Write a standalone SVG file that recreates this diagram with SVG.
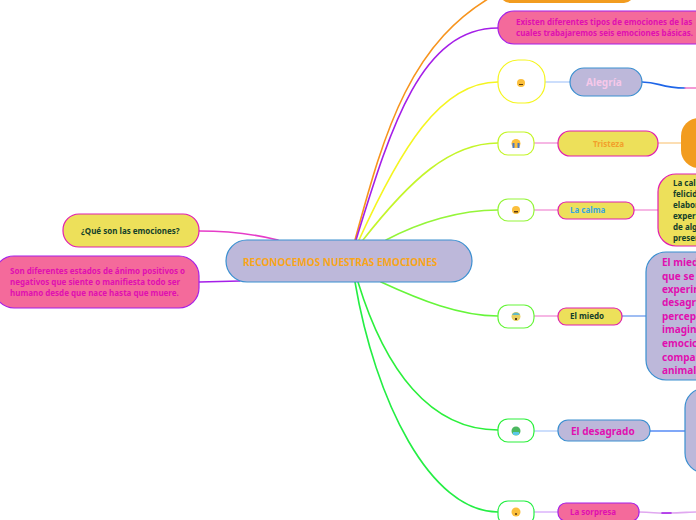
<svg xmlns="http://www.w3.org/2000/svg" width="696" height="520" viewBox="0 0 696 520">
<style>
text{font-family:"Noto Sans","Open Sans","Liberation Sans",sans-serif;font-weight:700;font-size:8px}
.c{fill:none;stroke-width:1.6;stroke-linecap:round}
.y{fill:#ede05a}.p{fill:#f46a9b}.l{fill:#bdb8da}.o{fill:#f29c1f}.w{fill:#fff}
.bm{stroke:#e01fb0;stroke-width:1.2}.bb{stroke:#3a8fd0;stroke-width:1.2}.bp{stroke:#a51fe8;stroke-width:1.2}
.m{fill:#e010b0}.d{fill:#14402a}.big{font-size:10px}
.f{fill:#fbbf3c}.e{fill:#5a3a10}
</style>
<g id="connectors">
<path class="c" stroke="#f7941d" d="M355 240C385 130 410 40 500 -8"/>
<path class="c" stroke="#a51fe8" d="M356 240C390 130 420 28 498 28"/>
<path class="c" stroke="#f5f520" d="M359 240C400 150 440 82 498 82"/>
<path class="c" stroke="#c4f52a" d="M363 240C410 180 450 143 498 143"/>
<path class="c" stroke="#95f53a" d="M386 240C420 222 460 210 498 210"/>
<path class="c" stroke="#66f53a" d="M381 282C420 300 460 316 498 316"/>
<path class="c" stroke="#2cf03c" d="M358 282C385 370 430 430 498 430"/>
<path class="c" stroke="#24ee44" d="M355 282C375 400 430 512 498 512"/>
<path class="c" stroke="#e63cc8" d="M278 240C250 233 225 231 199 231"/>
<path class="c" stroke="#a51fe8" d="M240 281L199 282"/>
<path class="c" stroke="#bcd4fb" d="M545 82H570"/>
<path class="c" stroke="#1f66e8" d="M642 82C660 82 660 88 685 88"/>
<path class="c" stroke="#f078c8" d="M685 88H696"/>
<path class="c" stroke="#f3a0dc" d="M534 143H558"/>
<path class="c" stroke="#fbd49a" d="M658 143H681"/>
<path class="c" stroke="#f3a0dc" d="M534 210H558M634 210H658"/>
<path class="c" stroke="#f3a0dc" d="M534 316H558"/>
<path class="c" stroke="#80a8f0" d="M622 316H646"/>
<path class="c" stroke="#bcd4fb" d="M534 431H558"/>
<path class="c" stroke="#80a8f8" style="stroke-width:2" d="M650 431H685"/>
<path class="c" stroke="#dcb4fb" d="M534 512H558"/>
<path class="c" stroke="#e0a8f0" d="M639 512C655 512 655 514 670 513C680 513 690 512 696 512"/>
<path class="c" stroke="#a51fe8" d="M662 513H671"/>
</g>
<g id="n-center"><rect class="l bb" x="226" y="240" width="246" height="42" rx="21"/><text x="243" y="266" fill="#f9a51a" style="font-size:10px">RECONOCEMOS NUESTRAS EMOCIONES</text></g>
<g id="n-que"><rect class="y bm" x="63" y="214" width="136" height="33" rx="16"/><text x="81" y="234" class="d">¿Qué son las emociones?</text></g>
<g id="n-son"><rect class="p bp" x="-6" y="256" width="205" height="52" rx="20"/><text class="m" x="10" y="274">Son diferentes estados de ánimo positivos o</text><text class="m" x="10" y="285">negativos que siente o manifiesta todo ser</text><text class="m" x="10" y="296">humano desde que nace hasta que muere.</text></g>
<g id="n-top"><rect class="o" x="500" y="-20" width="134" height="23" rx="10"/></g>
<g id="n-existen"><rect class="p bp" x="498" y="11" width="220" height="33" rx="16"/><text class="m" x="516" y="25">Existen diferentes tipos de emociones de las</text><text class="m" x="516" y="36">cuales trabajaremos seis emociones básicas.</text></g>
<g id="n-alegria-icon"><rect class="w" stroke="#f5f520" stroke-width="1.2" x="498" y="60" width="47" height="43" rx="20"/><circle class="f" cx="521" cy="83" r="4"/><path class="e" d="M519 84h4v1h-4z"/></g>
<g id="n-alegria"><rect class="l bb" x="570" y="68" width="72" height="28" rx="14"/><text x="586" y="86" fill="#f6c8ea" class="big">Alegría</text></g>
<g id="n-tristeza-icon"><rect class="w" stroke="#c4f52a" stroke-width="1.2" x="498" y="132" width="36" height="23" rx="10"/><circle class="f" cx="516" cy="143.500" r="4.500"/><path fill="#4a78c8" d="M512.500 143h2v5h-2zM517.500 143h2v5h-2z"/></g>
<g id="n-tristeza"><rect class="y bm" x="558" y="131" width="100" height="25" rx="12"/><text x="593" y="147" fill="#f2a02a">Tristeza</text></g>
<g id="n-orange"><rect class="o" x="681" y="118" width="40" height="50" rx="18"/></g>
<g id="n-calma-icon"><rect class="w" stroke="#95f53a" stroke-width="1.2" x="498" y="199" width="36" height="22" rx="10"/><circle class="f" cx="516" cy="210" r="4"/><path class="e" d="M514 211h4v1.500h-4z"/></g>
<g id="n-calma"><rect class="y bm" x="558" y="202" width="76" height="17" rx="8"/><text x="570" y="213" fill="#3aa6e0">La calma</text></g>
<g id="n-calma-text"><rect class="y bm" x="658" y="174" width="60" height="72" rx="18"/><text class="d" x="673" y="186">La cal</text><text class="d" x="673" y="197">felicid</text><text class="d" x="673" y="208">elabor</text><text class="d" x="673" y="219">experi</text><text class="d" x="673" y="230">de alg</text><text class="d" x="673" y="241">presen</text></g>
<g id="n-miedo-icon"><rect class="w" stroke="#66f53a" stroke-width="1.2" x="498" y="305" width="36" height="23" rx="10"/><circle fill="#e8d060" cx="516" cy="316.500" r="4.500"/><path fill="#5fb8c8" d="M512 315a4.500 4.500 0 0 1 8 0z"/><path class="e" d="M515 318h2v2h-2z"/></g>
<g id="n-miedo"><rect class="y bm" x="558" y="308" width="64" height="17" rx="8"/><text class="d" x="570" y="319">El miedo</text></g>
<g id="n-miedo-text"><rect class="l bb" x="646" y="252" width="80" height="128" rx="20"/><text class="m big" x="662" y="266">El mied</text><text class="m big" x="662" y="280">que se</text><text class="m big" x="662" y="293">experin</text><text class="m big" x="662" y="306">desagr</text><text class="m big" x="662" y="320">percep</text><text class="m big" x="662" y="333">imagin</text><text class="m big" x="662" y="347">emocic</text><text class="m big" x="662" y="361">compar</text><text class="m big" x="662" y="374">animal</text></g>
<g id="n-desagrado-icon"><rect class="w" stroke="#2cf03c" stroke-width="1.2" x="498" y="419" width="36" height="23" rx="10"/><circle fill="#4cb860" cx="516" cy="431" r="4.500"/><path fill="#5ac8e8" d="M513 432h6v3h-6z"/></g>
<g id="n-desagrado"><rect class="l bb" x="558" y="420" width="92" height="21" rx="10"/><text class="m big" x="571" y="434.500">El desagrado</text></g>
<g id="n-desagrado-text"><rect class="l bb" x="685" y="388" width="40" height="85" rx="20"/></g>
<g id="n-sorpresa-icon"><rect class="w" stroke="#24ee44" stroke-width="1.2" x="498" y="501" width="36" height="24" rx="10"/><circle class="f" cx="516" cy="512" r="4.500"/><circle class="e" cx="516" cy="514" r="1"/></g>
<g id="n-sorpresa"><rect class="p bp" x="558" y="503" width="81" height="18" rx="8"/><text class="m" x="570" y="515">La sorpresa</text></g>
</svg>
